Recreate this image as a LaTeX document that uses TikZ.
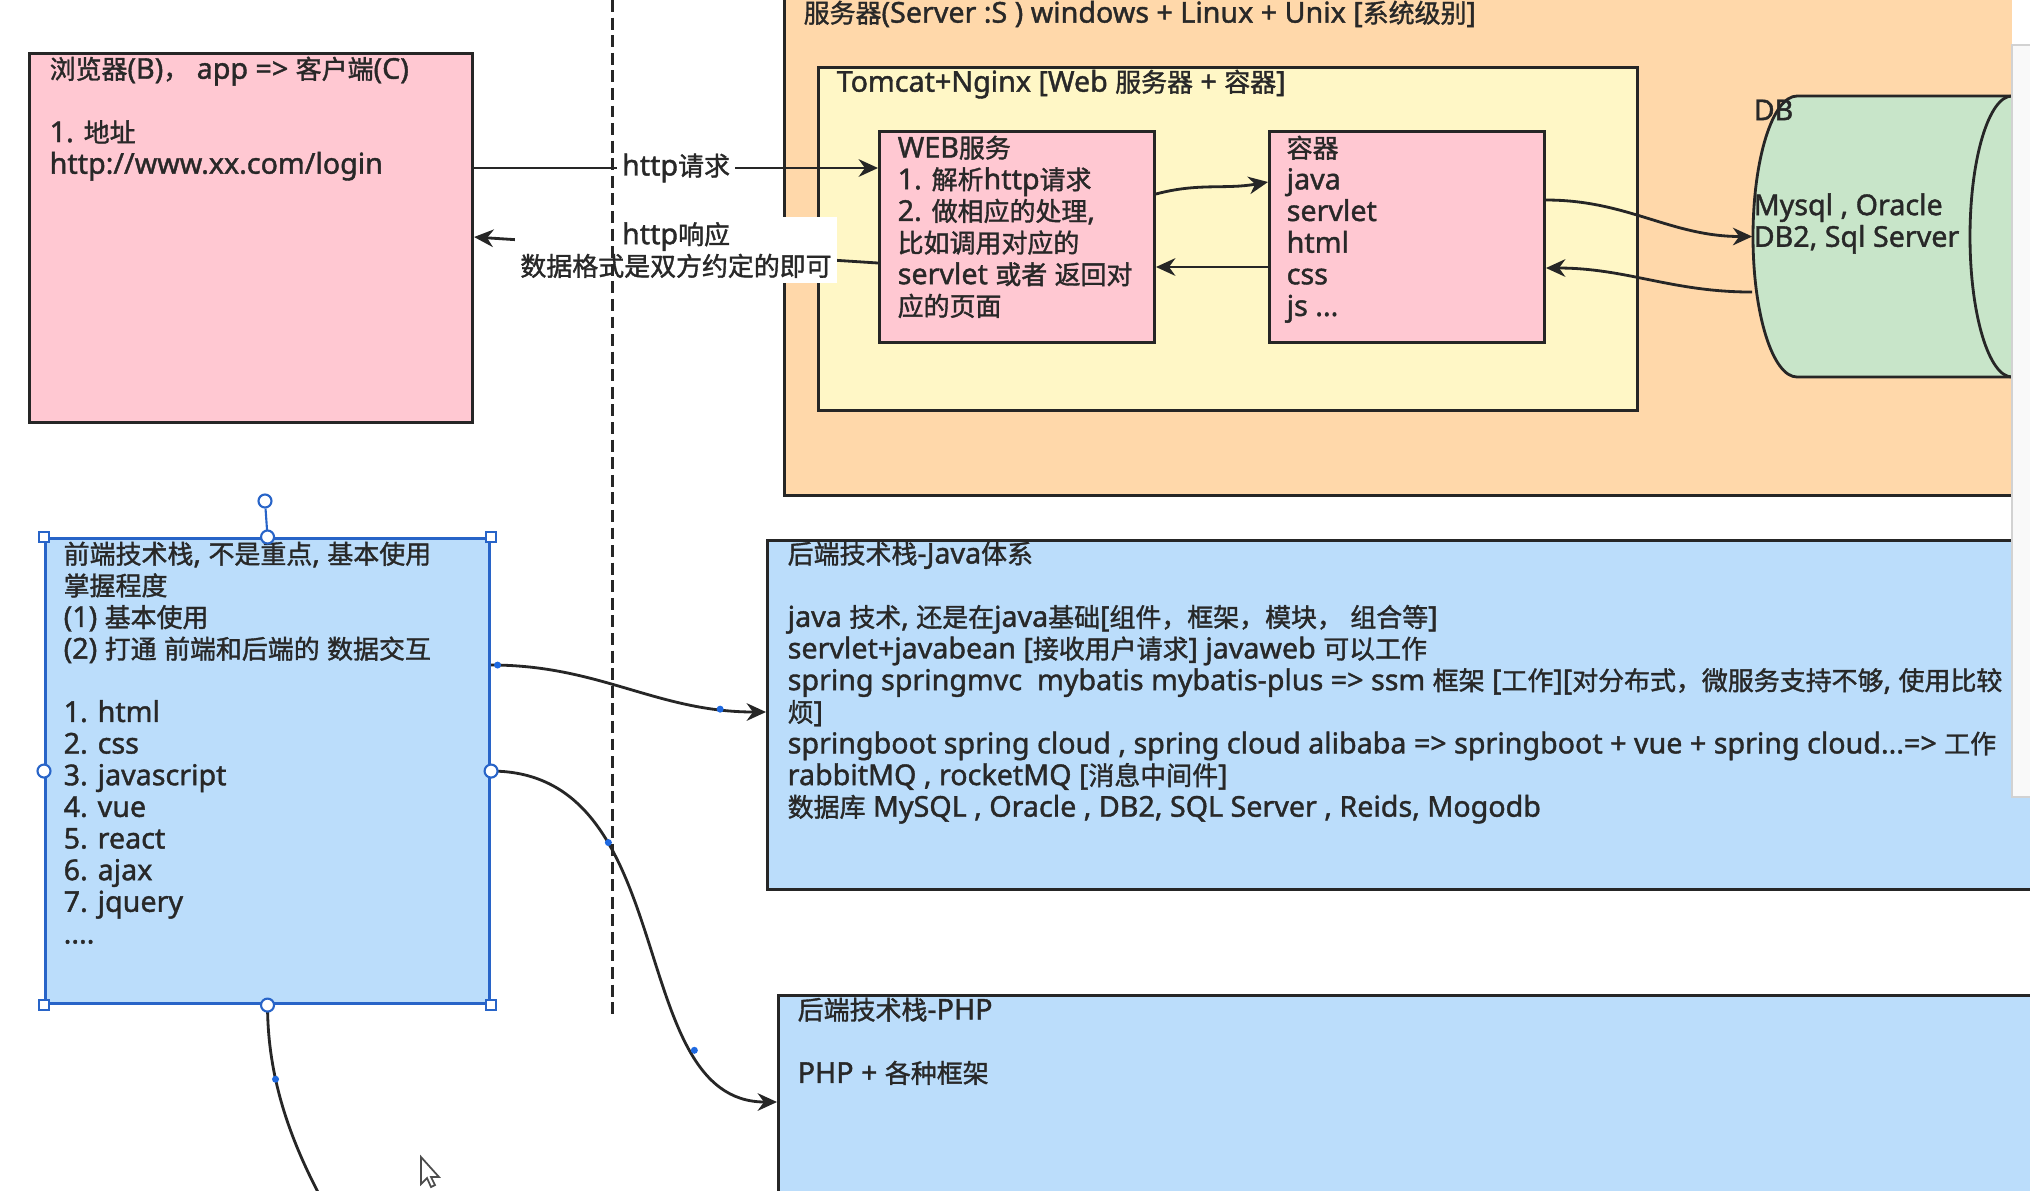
\documentclass[tikz,border=0pt]{standalone}
\usepackage{fontspec}
\setmainfont{Noto Sans}[FakeBold=1.4]
\newfontfamily\cjkfont{Noto Sans CJK SC}[Scale=0.905, FakeBold=1.4]
\usetikzlibrary{arrows.meta, shapes.geometric, positioning}

% CJK runs switch to the CJK font by themselves
\XeTeXinterchartokenstate=1
\ifdefined\newXeTeXintercharclass \newXeTeXintercharclass\cjkclass \else \chardef\cjkclass=10 \fi
\newcount\cjkcode
\def\cjkrange#1#2{\cjkcode=#1\relax
  \loop\XeTeXcharclass\cjkcode=\cjkclass
  \ifnum\cjkcode<#2\relax\advance\cjkcode by 1\repeat}
\cjkrange{"3000}{"303F}
\cjkrange{"4E00}{"9FFF}
\cjkrange{"FF00}{"FFEF}
\XeTeXinterchartoks 0 \cjkclass = {\begingroup\cjkfont}
\XeTeXinterchartoks 4095 \cjkclass = {\begingroup\cjkfont}
\XeTeXinterchartoks \cjkclass 0 = {\endgroup}
\XeTeXinterchartoks \cjkclass 4095 = {\endgroup}

\definecolor{pinkc}{RGB}{255,200,210}
\definecolor{peachc}{RGB}{255,216,170}
\definecolor{creamc}{RGB}{255,247,198}
\definecolor{greenc}{RGB}{200,229,201}
\definecolor{bluec}{RGB}{187,221,251}
\definecolor{linec}{RGB}{38,38,38}
\definecolor{textc}{RGB}{40,40,40}
\definecolor{selc}{RGB}{40,100,200}
\definecolor{dotc}{RGB}{30,105,225}

\newcommand{\diagfont}{\fontsize{8.15pt}{9pt}\selectfont}

\tikzset{
  box/.style={draw=linec, line width=0.8pt, inner sep=0pt, anchor=north west},
  txt/.style={anchor=north west, inner sep=0pt, align=left, text=textc, font=\diagfont},
  link/.style={draw=linec, line width=0.8pt, -{Stealth[length=5.5pt,width=5pt]}},
  tag/.style={fill=white, inner sep=1.5pt, align=center, text=textc, font=\diagfont},
  handle/.style={draw=selc, fill=white, line width=0.6pt, inner sep=0pt, minimum size=0.1cm},
  knob/.style={handle, circle, minimum size=0.13cm},
  dot/.style={circle, fill=dotc, inner sep=0pt, minimum size=0.07cm},
}

\begin{document}
\begin{tikzpicture}[x=0.01cm, y=-0.01cm]
\useasboundingbox (0,0) rectangle (2030,1190);
\fill[white] (0,0) rectangle (2030,1190);

% client
\node[box, fill=pinkc, minimum width=4.43cm, minimum height=3.69cm] (browser) at (28,52) {};
\node[txt] (browsertxt) at (49,56) {浏览器(B)， app => 客户端(C)\\ \\1. 地址\\http://www.xx.com/login};

% server
\node[box, fill=peachc, minimum width=13cm, minimum height=5.2cm] (server) at (783,-26) {};
\node[txt] (servertxt) at (803,0) {服务器(Server :S ) windows + Linux + Unix [系统级别]};
\node[box, fill=creamc, minimum width=8.19cm, minimum height=3.43cm] (tomcat) at (817,66) {};
\node[txt] (tomcattxt) at (836,69) {Tomcat+Nginx [Web 服务器 + 容器]};
\node[box, fill=pinkc, minimum width=2.75cm, minimum height=2.11cm] (web) at (878,130) {};
\node[txt] (webtxt) at (897,135) {WEB服务\\1. 解析http请求\\2. 做相应的处理,\\比如调用对应的\\servlet 或者 返回对\\应的页面};
\node[box, fill=pinkc, minimum width=2.75cm, minimum height=2.11cm] (container) at (1268,130) {};
\node[txt] (containertxt) at (1286,135) {容器\\java\\servlet\\html\\css\\js ...};

% database drum
\filldraw[fill=greenc, draw=linec, line width=0.8pt]
  (1797,96) -- (2012,96) arc[start angle=-90, end angle=90, x radius=42, y radius=140.5]
  -- (1797,377) arc[start angle=90, end angle=270, x radius=44, y radius=140.5] -- cycle;
\draw[draw=linec, line width=0.8pt] (2012,96) arc[start angle=-90, end angle=-270, x radius=42, y radius=140.5];
\node[inner sep=0pt, minimum width=3.01cm, minimum height=2.81cm] (db) at (1903.5,236.5) {};
\node[txt] (dbtxt) at (1753,99) {DB\\ \\ \\Mysql , Oracle\\DB2, Sql Server};

% tech stacks
\node[box, fill=bluec, draw=selc, minimum width=4.44cm, minimum height=4.65cm] (front) at (44,537) {};
\node[txt] (fronttxt) at (63,541) {前端技术栈, 不是重点, 基本使用\\掌握程度\\(1) 基本使用\\(2) 打通 前端和后端的 数据交互\\ \\1. html\\2. css\\3. javascript\\4. vue\\5. react\\6. ajax\\7. jquery\\....};
\node[box, fill=bluec, minimum width=13cm, minimum height=3.49cm] (java) at (766,539) {};
\node[txt] (javatxt) at (787,541) {后端技术栈-Java体系\\ \\java 技术, 还是在java基础[组件，框架，模块， 组合等]\\servlet+javabean [接收用户请求] javaweb 可以工作\\spring springmvc~ mybatis mybatis-plus => ssm 框架 [工作][对分布式，微服务支持不够, 使用比较\\烦]\\springboot spring cloud , spring cloud alibaba => springboot + vue + spring cloud...=> 工作\\rabbitMQ , rocketMQ [消息中间件]\\数据库 MySQL , Oracle , DB2, SQL Server , Reids, Mogodb};
\node[box, fill=bluec, minimum width=13cm, minimum height=3cm] (php) at (777,994) {};
\node[txt] (phptxt) at (797,997) {后端技术栈-PHP\\ \\PHP + 各种框架};

% request / response
\draw[link] (browser.east |- 0,168) -- node[tag] (req) {http请求} (web.west |- 0,168);
\draw[link] (web.west |- 0,263) -- node[tag] (resp) {http响应\\数据格式是双方约定的即可} (browser.east |- 0,237);
\draw[link] (web.east |- 0,194) to[out=15,in=190] (container.west |- 0,182);
\draw[link] (container.west |- 0,267) -- (web.east |- 0,267);
\draw[link] (container.east |- 0,200) to[out=0,in=180] (db.west);
\draw[link] ([yshift=-0.555cm]db.west) to[out=180,in=0] (container.east |- 0,268);

% stack links
\coordinate (offpage) at (400,1330);
\draw[link] (front.east |- 0,665) to[out=0,in=180] node[dot, pos=0.02] (d1) {} node[dot, pos=0.85] (d2) {} (java.west |- 0,712);
\draw[link] (front.east) .. controls +(192,0) and +(-154,0) .. node[dot, pos=0.3] (d3) {} node[dot, pos=0.75] (d4) {} (php.west |- 0,1102);
\draw[draw=linec, line width=0.8pt] (front.south) .. controls +(0,130) and +(-60,-100) .. node[dot, pos=0.2] (d5) {} (offpage);

% divider
\draw[draw=linec, line width=0.85pt, dash pattern=on 3.4pt off 1.6pt] (612,0) -- (612,1016);

% selection handles
\node[knob] (hrot) at (265,501) {};
\draw[draw=selc, line width=0.6pt] (hrot) -- (front.north);
\node[handle] (hnw) at (front.north west) {};
\node[handle] (hne) at (front.north east) {};
\node[handle] (hsw) at (front.south west) {};
\node[handle] (hse) at (front.south east) {};
\node[knob] (hn) at (front.north) {};
\node[knob] (hw) at (front.west) {};
\node[knob] (he) at (front.east) {};
\node[knob] (hs) at (front.south) {};

% side panel and pointer
\fill[white] (2012,0) rectangle (2030,797);
\draw[draw=gray!35, fill=gray!5] (2012,45) rectangle (2040,797);
\draw[fill=white, draw=black!70, line width=0.5pt, shift={(421,1157)}]
  (0,0) -- (0,27) -- (6,21) -- (10,30) -- (14,28) -- (10,20) -- (18,20) -- cycle;
\end{tikzpicture}
\end{document}
